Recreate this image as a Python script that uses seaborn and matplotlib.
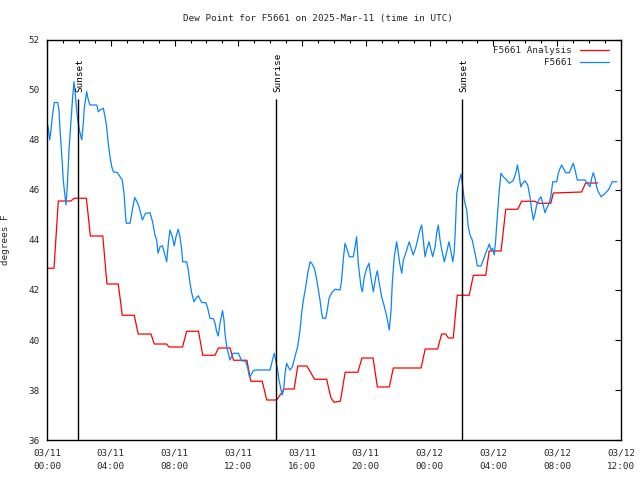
import matplotlib
matplotlib.use("Agg")
import matplotlib.pyplot as plt
import seaborn as sns
import pandas as pd
from matplotlib.ticker import MultipleLocator

# ---------------- data (hours since 2025-03-11 00:00 UTC, degrees F) ----------------
analysis_hours = [0.0, 0.44, 0.71, 1.5, 1.71, 2.47, 2.72, 3.5, 3.76, 4.47, 4.72, 5.47, 5.72,
                  6.52, 6.73, 7.5, 7.65, 8.5, 8.76, 9.5, 9.77, 10.54, 10.75, 11.48, 11.7,
                  12.54, 12.78, 13.5, 13.78, 14.4, 14.88, 15.5, 15.73, 16.3, 16.78, 17.54,
                  17.8, 18.0, 18.4, 18.7, 19.5, 19.75, 20.45, 20.72, 21.47, 21.72, 23.46,
                  23.72, 24.5, 24.75, 25.0, 25.17, 25.48, 25.73, 26.48, 26.74, 27.52, 27.73,
                  28.48, 28.77, 29.52, 29.77, 30.6, 30.8, 31.6, 31.75, 33.53, 33.78, 34.54]
analysis_values = [42.87, 42.87, 45.56, 45.56, 45.67, 45.67, 44.16, 44.16, 42.24, 42.24, 40.99,
                   40.99, 40.24, 40.24, 39.84, 39.84, 39.72, 39.72, 40.35, 40.35, 39.39, 39.39,
                   39.68, 39.68, 39.19, 39.19, 38.35, 38.35, 37.6, 37.6, 38.04, 38.04, 38.96,
                   38.96, 38.43, 38.43, 37.7, 37.51, 37.55, 38.71, 38.71, 39.28, 39.28, 38.12,
                   38.12, 38.88, 38.88, 39.64, 39.64, 40.24, 40.24, 40.08, 40.08, 41.79, 41.79,
                   42.59, 42.59, 43.56, 43.56, 45.23, 45.23, 45.55, 45.55, 45.47, 45.47, 45.88,
                   45.92, 46.28, 46.28]

obs_hours = [0.0, 0.08, 0.17, 0.25, 0.33, 0.46, 0.67, 0.75, 0.83, 0.92, 1.02, 1.13, 1.19, 1.27,
             1.38, 1.51, 1.61, 1.69, 1.77, 1.86, 1.93, 2.03, 2.18, 2.28, 2.34, 2.49, 2.59, 2.70,
             3.12, 3.22, 3.32, 3.53, 3.64, 3.74, 3.84, 3.95, 4.06, 4.16, 4.43, 4.58, 4.72, 4.83,
             4.94, 4.97, 5.21, 5.35, 5.50, 5.64, 5.77, 5.98, 6.18, 6.46, 6.62, 6.77, 6.88, 6.96,
             7.09, 7.24, 7.40, 7.51, 7.61, 7.71, 7.86, 7.98, 8.09, 8.23, 8.34, 8.45, 8.51, 8.76,
             8.86, 8.97, 9.08, 9.22, 9.35, 9.49, 9.60, 9.70, 9.97, 10.08, 10.22, 10.43, 10.54,
             10.64, 10.74, 10.85, 11.01, 11.10, 11.16, 11.27, 11.37, 11.48, 11.58, 11.68, 12.00,
             12.10, 12.21, 12.46, 12.59, 12.69, 12.79, 12.94, 13.05, 13.99, 14.09, 14.19, 14.26,
             14.34, 14.47, 14.55, 14.68, 14.76, 14.85, 14.93, 15.03, 15.13, 15.24, 15.39, 15.55,
             15.72, 15.87, 15.97, 16.08, 16.23, 16.35, 16.50, 16.60, 16.77, 16.92, 17.02, 17.12,
             17.23, 17.29, 17.48, 17.58, 17.69, 17.86, 18.06, 18.38, 18.48, 18.58, 18.69, 18.80,
             18.96, 19.21, 19.32, 19.42, 19.52, 19.69, 19.78, 19.90, 20.05, 20.20, 20.32, 20.47,
             20.62, 20.72, 20.82, 20.99, 21.16, 21.31, 21.41, 21.47, 21.58, 21.66, 21.78, 21.93,
             22.03, 22.14, 22.25, 22.35, 22.50, 22.62, 22.72, 22.87, 22.97, 23.14, 23.29, 23.39,
             23.50, 23.60, 23.71, 23.81, 23.96, 24.08, 24.19, 24.34, 24.44, 24.54, 24.65, 24.76,
             24.92, 25.07, 25.21, 25.32, 25.45, 25.53, 25.59, 25.70, 25.84, 25.97, 26.05, 26.17,
             26.32, 26.42, 26.53, 26.67, 26.80, 26.91, 26.99, 27.22, 27.36, 27.51, 27.68, 27.74,
             27.85, 27.95, 28.05, 28.14, 28.24, 28.35, 28.47, 28.62, 28.83, 28.98, 29.15, 29.25,
             29.40, 29.50, 29.60, 29.71, 29.84, 29.98, 30.15, 30.29, 30.40, 30.50, 30.61, 30.71,
             30.86, 30.98, 31.09, 31.23, 31.38, 31.50, 31.61, 31.72, 31.97, 32.07, 32.18, 32.28,
             32.38, 32.53, 32.76, 32.91, 33.01, 33.12, 33.26, 33.74, 33.85, 34.06, 34.16, 34.26,
             34.37, 34.47, 34.58, 34.75, 34.89, 35.04, 35.20, 35.31, 35.45, 35.73]
obs_values = [48.73, 48.47, 48.0, 48.4, 48.93, 49.5, 49.5, 49.2, 48.27, 47.47, 46.4, 45.73, 45.4,
              46.13, 47.6, 48.8, 49.73, 50.33, 49.87, 49.2, 48.8, 48.4, 48.0, 48.7, 49.3, 49.93,
              49.6, 49.4, 49.4, 49.13, 49.2, 49.27, 48.93, 48.53, 47.87, 47.33, 46.93, 46.73,
              46.69, 46.53, 46.4, 45.87, 44.87, 44.67, 44.67, 45.2, 45.7, 45.53, 45.33, 44.8,
              45.07, 45.09, 44.73, 44.2, 44.0, 43.47, 43.73, 43.77, 43.4, 43.13, 43.87, 44.4,
              44.13, 43.76, 44.13, 44.43, 44.13, 43.6, 43.13, 43.13, 42.8, 42.27, 41.87, 41.53,
              41.67, 41.77, 41.63, 41.5, 41.49, 41.27, 40.87, 40.85, 40.67, 40.33, 40.16, 40.67,
              41.17, 40.8, 40.27, 39.73, 39.47, 39.2, 39.33, 39.47, 39.47, 39.33, 39.17, 39.15,
              38.87, 38.53, 38.6, 38.77, 38.8, 38.8, 39.07, 39.33, 39.47, 39.2, 38.8, 38.4, 38.0,
              37.8, 38.07, 38.67, 39.07, 38.93, 38.8, 38.93, 39.33, 39.73, 40.4, 41.07, 41.6,
              42.13, 42.67, 43.13, 43.07, 42.87, 42.4, 42.0, 41.6, 41.07, 40.87, 40.87, 41.2,
              41.67, 41.89, 42.03, 42.0, 42.4, 43.2, 43.87, 43.67, 43.33, 43.33, 43.73, 44.13,
              43.07, 42.13, 41.93, 42.53, 42.87, 43.07, 42.47, 41.93, 42.53, 42.77, 42.33, 41.73,
              41.33, 40.93, 40.6, 40.4, 41.2, 42.33, 43.33, 43.93, 43.47, 43.0, 42.67, 43.2,
              43.47, 43.73, 43.93, 43.6, 43.4, 43.73, 44.13, 44.4, 44.6, 44.0, 43.33, 43.6, 43.93,
              43.6, 43.33, 43.73, 44.27, 44.6, 44.0, 43.6, 43.13, 43.53, 43.93, 43.6, 43.13,
              43.47, 44.13, 45.87, 46.33, 46.64, 46.27, 45.6, 45.2, 44.53, 44.2, 44.0, 43.6,
              43.27, 42.96, 42.96, 43.2, 43.47, 43.73, 43.84, 43.6, 43.67, 43.4, 44.0, 44.93,
              45.87, 46.67, 46.53, 46.4, 46.27, 46.33, 46.4, 46.67, 47.0, 46.67, 46.13, 46.27,
              46.37, 46.2, 45.73, 45.2, 44.8, 45.07, 45.4, 45.63, 45.73, 45.47, 45.09, 45.33,
              45.47, 45.8, 46.33, 46.33, 46.67, 46.87, 47.0, 46.87, 46.69, 46.69, 46.93, 47.07,
              46.8, 46.4, 46.4, 46.29, 46.13, 46.47, 46.69, 46.47, 46.13, 45.93, 45.73, 45.8,
              45.89, 46.0, 46.13, 46.33, 46.33]

event_hours = [1.96, 14.38, 26.05]
event_labels = ["Sunset", "Sunrise", "Sunset"]

tick_hours = [0, 4, 8, 12, 16, 20, 24, 28, 32, 36]
tick_labels = ["03/11\n00:00", "03/11\n04:00", "03/11\n08:00", "03/11\n12:00", "03/11\n16:00",
               "03/11\n20:00", "03/12\n00:00", "03/12\n04:00", "03/12\n08:00", "03/12\n12:00"]

title = "Dew Point for F5661 on 2025-Mar-11 (time in UTC)"
ylabel = "degrees F"
analysis_name = "F5661 Analysis"
obs_name = "F5661"

# ---------------- styling ----------------
sns.set_style("white")
plt.rcParams["font.family"] = ["DejaVu Sans Mono", "DejaVu Sans"]
FS = 6.7

fig = plt.figure(figsize=(6.4, 4.8), dpi=100)
ax = fig.add_axes([47 / 640, 40 / 480, 574 / 640, 400 / 480])

df_a = pd.DataFrame({"hours": analysis_hours, "value": analysis_values})
df_o = pd.DataFrame({"hours": obs_hours, "value": obs_values})

sns.lineplot(data=df_a, x="hours", y="value", ax=ax, color="#ff0000", lw=0.9,
             estimator=None, label=analysis_name)
sns.lineplot(data=df_o, x="hours", y="value", ax=ax, color="#0a84ff", lw=0.9,
             estimator=None, label=obs_name)

ax.set_xlim(0, 36)
ax.set_ylim(36, 52)

line_top = 49.64
ax.vlines(event_hours, 36, line_top, color="black", lw=1.0)
for t, lab in zip(event_hours, event_labels):
    ax.text(t + 0.1, line_top + 0.28, lab, rotation=90, ha="center", va="bottom",
            fontsize=FS, color="black")

ax.set_xticks(tick_hours)
ax.set_xticklabels(tick_labels, fontsize=FS, linespacing=1.7)
ax.xaxis.set_minor_locator(MultipleLocator(1))
ax.yaxis.set_major_locator(MultipleLocator(2))
ax.tick_params(axis="y", labelsize=FS)
ax.tick_params(which="both", direction="in", top=True, right=True, color="black")
ax.tick_params(which="major", length=4.5, width=0.8, pad=5)
ax.tick_params(which="minor", length=2.5, width=0.8)
ax.tick_params(axis="x", pad=6)

for s in ax.spines.values():
    s.set_color("black")
    s.set_linewidth(1.0)

ax.set_xlabel("")
ax.set_ylabel(ylabel, fontsize=FS)
ax.yaxis.set_label_coords(-37 / 574, 0.5)

fig.text(318 / 640, 1 - 19 / 480, title, ha="center", va="center", fontsize=FS)

leg = ax.legend(loc="upper right", bbox_to_anchor=(0.982, 0.99), markerfirst=False,
                frameon=False, fontsize=FS, handlelength=3.1, handletextpad=0.85,
                labelspacing=0.38, borderaxespad=0.0, borderpad=0.2)
for t in leg.get_texts():
    t.set_ha("right")
leg._legend_box.align = "right"

fig.savefig("out.png", dpi=100, facecolor="white")
